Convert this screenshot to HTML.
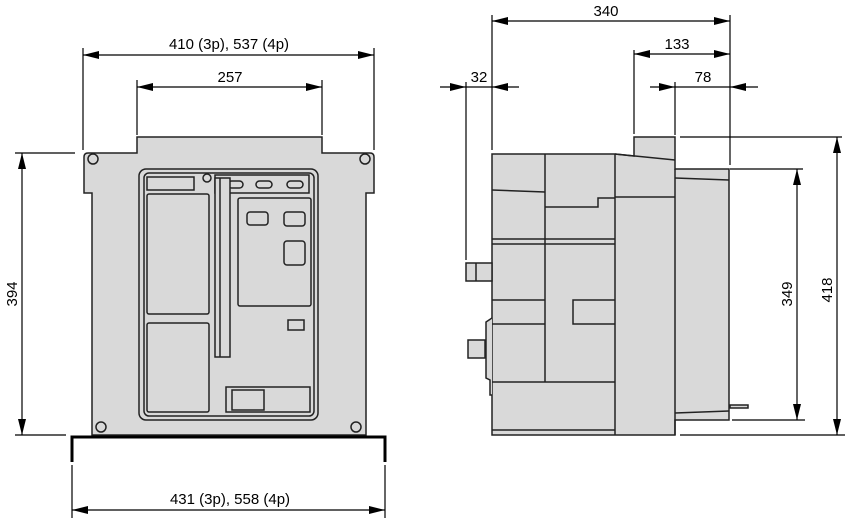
<!DOCTYPE html>
<html><head><meta charset="utf-8"><style>
html,body{margin:0;padding:0;background:#fff;width:850px;height:527px;overflow:hidden}
text{font-family:"Liberation Sans Narrow","Liberation Sans",sans-serif;font-size:15px;fill:#000}
</style></head><body>
<svg width="850" height="527" viewBox="0 0 850 527" xmlns="http://www.w3.org/2000/svg">
<defs>
<marker id="a" viewBox="0 0 16 8" refX="16" refY="4" markerWidth="16" markerHeight="8" markerUnits="userSpaceOnUse" orient="auto"><path d="M0,0L16,4L0,8z" fill="#000"/></marker>
</defs>
<g fill="#d9d9d9" stroke="#222" stroke-width="1.5">
<!-- front view -->
<path d="M137,137H322V153H370Q374,153 374,157V193H366V435H92V193H84V157Q84,153 88,153H137Z"/>
<rect x="139" y="169" width="179" height="251" rx="7"/>
<rect x="144" y="173" width="170" height="243" rx="5"/>
<rect x="147" y="177" width="47" height="13"/>
<rect x="147" y="194" width="62" height="120" rx="2"/>
<rect x="147" y="323" width="62" height="89" rx="2"/>
<rect x="215" y="175" width="94" height="18"/>
<rect x="256" y="181" width="16" height="7" rx="3.5"/>
<rect x="287" y="181" width="16" height="7" rx="3.5"/>
<rect x="228" y="181" width="15" height="7" rx="3.5"/>
<rect x="215" y="178" width="15" height="179"/>
<line x1="220" y1="178" x2="220" y2="357"/>
<rect x="238" y="198" width="73" height="108" rx="2"/>
<rect x="247" y="212" width="21" height="13" rx="3"/>
<rect x="284" y="212" width="21" height="14" rx="3"/>
<rect x="284" y="241" width="21" height="24" rx="3"/>
<rect x="288" y="320" width="16" height="10"/>
<rect x="226" y="387" width="84" height="25"/>
<rect x="232" y="390" width="32" height="20"/>
<circle cx="207" cy="178" r="4"/>
<circle cx="93" cy="159" r="5"/>
<circle cx="365" cy="159" r="5"/>
<circle cx="101" cy="427" r="5"/>
<circle cx="356" cy="427" r="5"/>
<!-- side view -->
<path d="M634,137H675V169H729V420H675V435H492V154H615L634,156Z"/>
<line x1="615" y1="154" x2="675" y2="160"/>
<line x1="675" y1="178" x2="729" y2="180"/>
<line x1="675" y1="169" x2="675" y2="435"/>
<line x1="545" y1="154" x2="545" y2="382"/>
<line x1="615" y1="154" x2="615" y2="435"/>
<line x1="615" y1="197" x2="675" y2="197"/>
<line x1="492" y1="190" x2="545" y2="192"/>
<path d="M545,207H598V198H615" fill="none"/>
<line x1="492" y1="239" x2="615" y2="239"/>
<line x1="492" y1="244" x2="615" y2="244"/>
<line x1="492" y1="300" x2="545" y2="300"/>
<line x1="492" y1="324" x2="545" y2="324"/>
<path d="M615,300H573V324H615" fill="none"/>
<line x1="492" y1="382" x2="615" y2="382"/>
<line x1="492" y1="430" x2="615" y2="430"/>
<line x1="675" y1="413" x2="729" y2="411"/>
<rect x="466" y="263" width="26" height="18"/>
<line x1="476" y1="263" x2="476" y2="281"/>
<rect x="468" y="340" width="17" height="18"/>
<path d="M492,318L486,322V378L490,380V395H492"/>
<path d="M730,405H748V408H730Z"/>
</g>
<g stroke="#000" stroke-width="1.2" fill="none">
<!-- front dims -->
<line x1="83" y1="48" x2="83" y2="150"/><line x1="374" y1="48" x2="374" y2="150"/>
<line x1="100" y1="55" x2="83" y2="55" marker-end="url(#a)"/><line x1="300" y1="55" x2="374" y2="55" marker-end="url(#a)"/><line x1="100" y1="55" x2="300" y2="55"/>
<line x1="137" y1="80" x2="137" y2="135"/><line x1="322" y1="80" x2="322" y2="135"/>
<line x1="200" y1="87" x2="137" y2="87" marker-end="url(#a)"/><line x1="200" y1="87" x2="322" y2="87" marker-end="url(#a)"/>
<line x1="15" y1="153" x2="75" y2="153"/><line x1="15" y1="435" x2="66" y2="435"/>
<line x1="22" y1="290" x2="22" y2="153" marker-end="url(#a)"/><line x1="22" y1="290" x2="22" y2="435" marker-end="url(#a)"/>
<line x1="72" y1="465" x2="72" y2="518"/><line x1="385" y1="465" x2="385" y2="518"/>
<line x1="230" y1="510" x2="72" y2="510" marker-end="url(#a)"/><line x1="230" y1="510" x2="385" y2="510" marker-end="url(#a)"/>
<!-- side dims -->
<line x1="492" y1="15" x2="492" y2="150"/><line x1="730" y1="15" x2="730" y2="165"/>
<line x1="600" y1="21" x2="492" y2="21" marker-end="url(#a)"/><line x1="600" y1="21" x2="730" y2="21" marker-end="url(#a)"/>
<line x1="634" y1="50" x2="634" y2="134"/>
<line x1="680" y1="54" x2="634" y2="54" marker-end="url(#a)"/><line x1="680" y1="54" x2="730" y2="54" marker-end="url(#a)"/>
<line x1="466" y1="82" x2="466" y2="260"/><line x1="675" y1="82" x2="675" y2="135"/>
<line x1="440" y1="87" x2="466" y2="87" marker-end="url(#a)"/><line x1="466" y1="87" x2="492" y2="87"/><line x1="519" y1="87" x2="492" y2="87" marker-end="url(#a)"/>
<line x1="650" y1="87" x2="675" y2="87" marker-end="url(#a)"/><line x1="675" y1="87" x2="730" y2="87"/><line x1="758" y1="87" x2="730" y2="87" marker-end="url(#a)"/>
<line x1="680" y1="137" x2="842" y2="137"/><line x1="730" y1="169" x2="803" y2="169"/>
<line x1="732" y1="420" x2="805" y2="420"/><line x1="680" y1="435" x2="845" y2="435"/>
<line x1="797" y1="290" x2="797" y2="169" marker-end="url(#a)"/><line x1="797" y1="290" x2="797" y2="420" marker-end="url(#a)"/>
<line x1="837" y1="290" x2="837" y2="137" marker-end="url(#a)"/><line x1="837" y1="290" x2="837" y2="435" marker-end="url(#a)"/>
</g>
<path d="M72,462V437H385V462" fill="none" stroke="#000" stroke-width="3"/>
<text x="229" y="49" text-anchor="middle">410 (3p), 537 (4p)</text>
<text x="230" y="82" text-anchor="middle">257</text>
<text x="230" y="504" text-anchor="middle">431 (3p), 558 (4p)</text>
<text transform="translate(17,294) rotate(-90)" text-anchor="middle">394</text>
<text x="606" y="16" text-anchor="middle">340</text>
<text x="677" y="49" text-anchor="middle">133</text>
<text x="479" y="82" text-anchor="middle">32</text>
<text x="703" y="82" text-anchor="middle">78</text>
<text transform="translate(792,294) rotate(-90)" text-anchor="middle">349</text>
<text transform="translate(832,290) rotate(-90)" text-anchor="middle">418</text>
</svg>
</body></html>
